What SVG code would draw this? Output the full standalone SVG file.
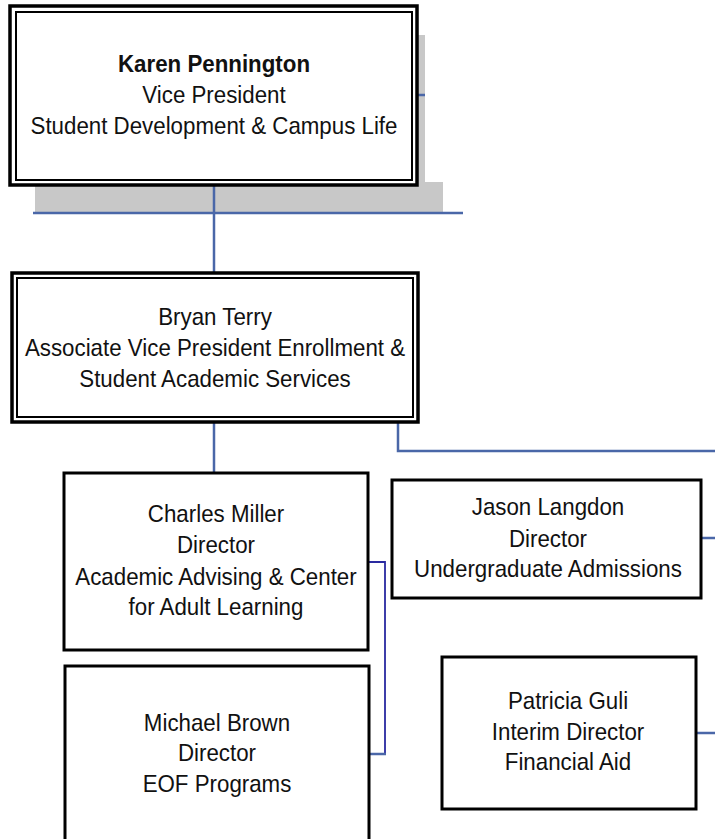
<svg xmlns="http://www.w3.org/2000/svg" width="715" height="839" viewBox="0 0 715 839">
<style>
text{font-family:"Liberation Sans",Arial,sans-serif;font-size:24px;fill:#111;text-anchor:middle}
.b{font-weight:bold}
.outer{fill:#fff;stroke:#000;stroke-width:3.5}
.inner{fill:none;stroke:#000;stroke-width:2}
.box{fill:#fff;stroke:#000;stroke-width:3}
.shadow{fill:#c8c8c8}
.conn{fill:none;stroke:#4a67a8;stroke-width:2.5}
.navy{fill:none;stroke:#2a2aa0;stroke-width:1.8}
</style>
<rect width="715" height="839" fill="#fff"/>
<g id="shadow">
<rect class="shadow" x="35" y="35" width="390" height="150"/>
<rect class="shadow" x="35" y="182" width="408" height="30"/>
</g>
<g id="connectors">
<line class="conn" x1="33" y1="213" x2="463" y2="213"/>
<line class="conn" x1="214" y1="185" x2="214" y2="273"/>
<line class="conn" x1="417" y1="95" x2="425" y2="95"/>
<line class="conn" x1="214" y1="422" x2="214" y2="473"/>
<polyline class="conn" points="398,422 398,451 715,451"/>
<line class="conn" x1="701" y1="538" x2="715" y2="538"/>
<line class="conn" x1="696" y1="733" x2="715" y2="733"/>
<polyline class="navy" points="368,562 385,562 385,754 369,754"/>
<line class="conn" x1="369" y1="754" x2="386" y2="754"/>
</g>
<g id="karen">
<rect class="outer" x="10" y="6" width="407" height="179"/>
<rect class="inner" x="16" y="12" width="396" height="168"/>
<g transform="translate(214,0) scale(0.93,1)">
<text class="b" x="0" y="72">Karen Pennington</text>
<text x="0" y="103">Vice President</text>
<text x="0" y="134">Student Development &amp; Campus Life</text>
</g>
</g>
<g id="bryan">
<rect class="outer" x="12" y="273" width="406" height="149"/>
<rect class="inner" x="17" y="278" width="396" height="139"/>
<g transform="translate(215,0) scale(0.93,1)">
<text x="0" y="325">Bryan Terry</text>
<text x="0" y="356">Associate Vice President Enrollment &amp;</text>
<text x="0" y="387">Student Academic Services</text>
</g>
</g>
<g id="charles">
<rect class="box" x="64" y="473" width="304" height="177"/>
<g transform="translate(216,0) scale(0.93,1)">
<text x="0" y="522">Charles Miller</text>
<text x="0" y="553">Director</text>
<text x="0" y="585">Academic Advising &amp; Center</text>
<text x="0" y="615">for Adult Learning</text>
</g>
</g>
<g id="michael">
<rect class="box" x="65" y="666" width="304" height="190"/>
<g transform="translate(217,0) scale(0.93,1)">
<text x="0" y="731">Michael Brown</text>
<text x="0" y="761">Director</text>
<text x="0" y="792">EOF Programs</text>
</g>
</g>
<g id="jason">
<rect class="box" x="392" y="480" width="309" height="118"/>
<g transform="translate(548,0) scale(0.93,1)">
<text x="0" y="515">Jason Langdon</text>
<text x="0" y="547">Director</text>
<text x="0" y="577">Undergraduate Admissions</text>
</g>
</g>
<g id="patricia">
<rect class="box" x="442" y="657" width="254" height="152"/>
<g transform="translate(568,0) scale(0.93,1)">
<text x="0" y="709">Patricia Guli</text>
<text x="0" y="740">Interim Director</text>
<text x="0" y="770">Financial Aid</text>
</g>
</g>
</svg>
